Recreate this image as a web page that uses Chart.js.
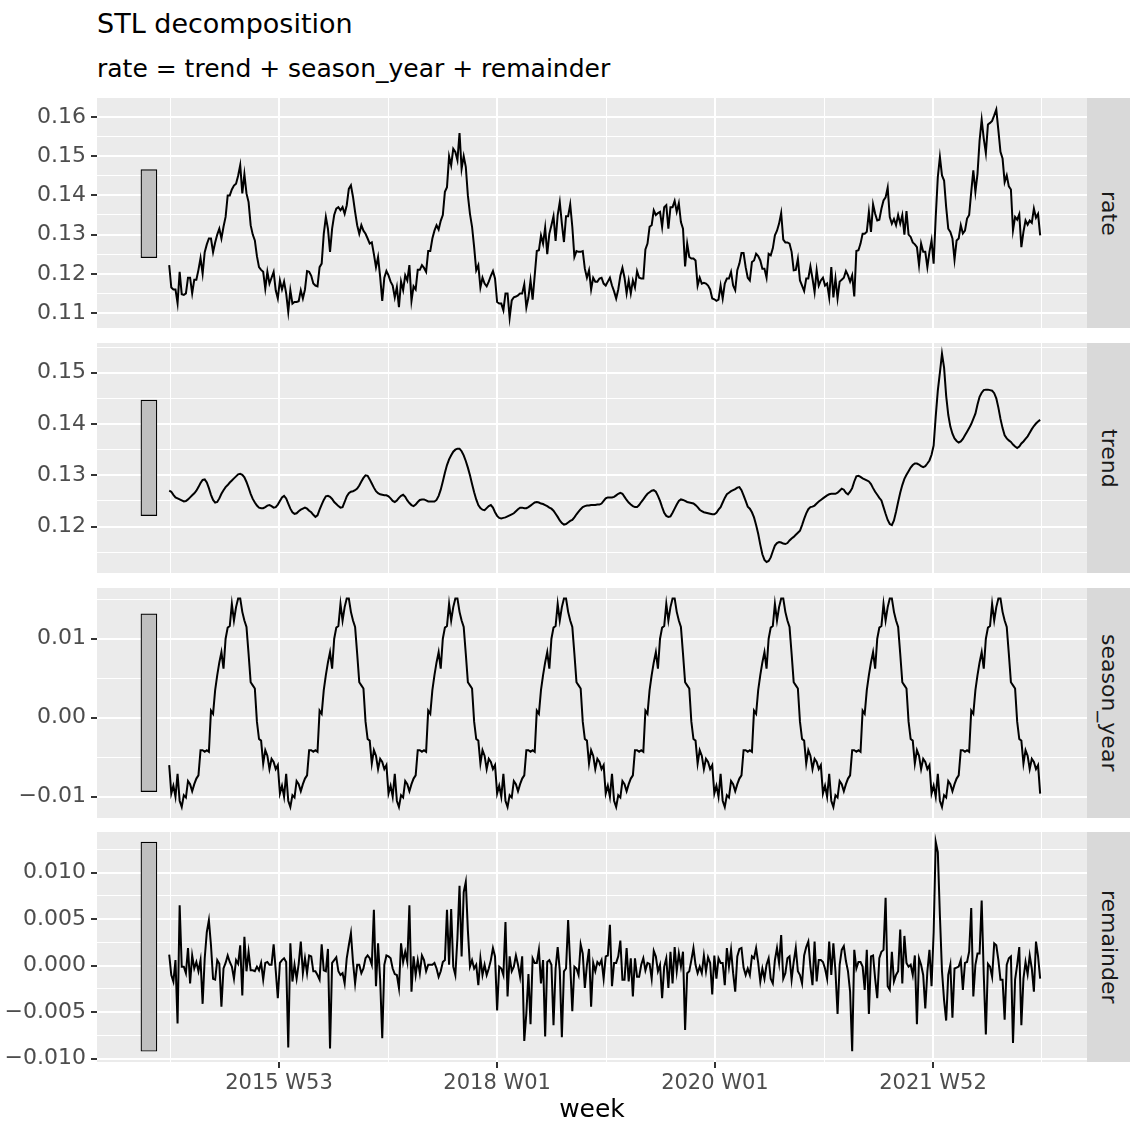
<!DOCTYPE html>
<html><head><meta charset="utf-8">
<script src="https://cdn.jsdelivr.net/npm/chart.js@4.4.1/dist/chart.umd.min.js"></script>
<style>
html,body{margin:0;padding:0;background:#fff;}
#wrap{position:relative;width:1130px;height:1128px;overflow:hidden;font-family:'DejaVu Sans',sans-serif;}
canvas{position:absolute;left:0;display:block;}
.txt{position:absolute;white-space:nowrap;line-height:1;color:#000;}
.strip{position:absolute;background:#D9D9D9;display:flex;align-items:center;justify-content:center;}
.strip span{writing-mode:vertical-rl;font-size:22px;color:#1A1A1A;line-height:1;white-space:nowrap;}
</style></head><body>
<div id="wrap">
  <div class="txt" style="left:97px;top:10px;font-size:27px;">STL decomposition</div>
  <div class="txt" style="left:97px;top:56px;font-size:25px;">rate = trend + season_year + remainder</div>
</div>
<script>
// ---------------- DATA ----------------
const facetLabels = ['rate', 'trend', 'season_year', 'remainder'];
const xAxisTitle = 'week';
const firstWeekMonday = '2014-12-29'; // 2015 W01, one observation per week
const xTickDates = ['2016-01-01', '2018-01-01', '2020-01-01', '2022-01-01'];
const xTickLabels = ['2015 W53', '2018 W01', '2020 W01', '2021 W52'];
const xMinorDates = ['2015-01-01', '2017-01-01', '2019-01-01', '2021-01-01', '2023-01-01'];

const rateTicks = [0.11, 0.12, 0.13, 0.14, 0.15, 0.16];
const rateTickLabels = ['0.11', '0.12', '0.13', '0.14', '0.15', '0.16'];
const rateMinorTicks = [0.115, 0.125, 0.135, 0.145, 0.155];
const trendTicks = [0.12, 0.13, 0.14, 0.15];
const trendTickLabels = ['0.12', '0.13', '0.14', '0.15'];
const trendMinorTicks = [0.115, 0.125, 0.135, 0.145, 0.155];
const seasonTicks = [-0.01, 0, 0.01];
const seasonTickLabels = ['\u22120.01', '0.00', '0.01'];
const seasonMinorTicks = [-0.005, 0.005, 0.015];
const remainderTicks = [-0.01, -0.005, 0, 0.005, 0.01];
const remainderTickLabels = ['\u22120.010', '\u22120.005', '0.000', '0.005', '0.010'];
const remainderMinorTicks = [-0.0075, -0.0025, 0.0025, 0.0075, 0.0125];

const rate = [
0.1222,0.1165,0.1160,0.1160,0.1125,0.1205,0.1148,0.1146,0.1150,0.1190,
0.1190,0.1150,0.1185,0.1185,0.1210,0.1240,0.1200,0.1255,0.1275,0.1290,
0.1290,0.1255,0.1280,0.1300,0.1315,0.1290,0.1320,0.1345,0.1400,0.1400,
0.1415,0.1425,0.1430,0.1450,0.1477,0.1405,0.1454,0.1405,0.1383,0.1324,
0.1300,0.1285,0.1245,0.1217,0.1210,0.1205,0.1162,0.1205,0.1175,0.1190,
0.1205,0.1158,0.1137,0.1183,0.1160,0.1180,0.1150,0.1103,0.1158,0.1124,
0.1128,0.1128,0.1130,0.1158,0.1137,0.1160,0.1207,0.1205,0.1195,0.1175,
0.1170,0.1168,0.1217,0.1226,0.1302,0.1345,0.1315,0.1256,0.1315,0.1350,
0.1366,0.1370,0.1362,0.1370,0.1353,0.1375,0.1417,0.1426,0.1396,0.1358,
0.1324,0.1302,0.1324,0.1310,0.1302,0.1290,0.1277,0.1280,0.1250,0.1217,
0.1243,0.1192,0.1131,0.1190,0.1207,0.1196,0.1180,0.1170,0.1140,0.1166,
0.1115,0.1180,0.1158,0.1196,0.1183,0.1222,0.1131,0.1168,0.1160,0.1210,
0.1210,0.1222,0.1215,0.1205,0.1258,0.1258,0.1290,0.1310,0.1324,0.1313,
0.1335,0.1350,0.1409,0.1421,0.1500,0.1477,0.1519,0.1511,0.1490,0.1559,
0.1468,0.1500,0.1473,0.1400,0.1353,0.1320,0.1268,0.1209,0.1222,0.1165,
0.1190,0.1175,0.1168,0.1180,0.1195,0.1207,0.1188,0.1128,0.1124,0.1124,
0.1107,0.1150,0.1150,0.1088,0.1132,0.1140,0.1142,0.1145,0.1150,0.1150,
0.1173,0.1114,0.1140,0.1183,0.1134,0.1196,0.1258,0.1260,0.1298,0.1277,
0.1318,0.1250,0.1302,0.1324,0.1347,0.1284,0.1350,0.1383,0.1328,0.1281,
0.1347,0.1347,0.1377,0.1320,0.1243,0.1258,0.1256,0.1256,0.1258,0.1213,
0.1190,0.1209,0.1160,0.1190,0.1180,0.1180,0.1188,0.1190,0.1175,0.1170,
0.1180,0.1190,0.1170,0.1155,0.1137,0.1160,0.1195,0.1215,0.1190,0.1150,
0.1183,0.1150,0.1183,0.1165,0.1207,0.1190,0.1188,0.1188,0.1262,0.1277,
0.1320,0.1324,0.1362,0.1350,0.1355,0.1358,0.1320,0.1370,0.1375,0.1315,
0.1370,0.1370,0.1386,0.1358,0.1380,0.1332,0.1315,0.1219,0.1277,0.1243,
0.1239,0.1239,0.1234,0.1170,0.1190,0.1175,0.1177,0.1175,0.1170,0.1160,
0.1137,0.1135,0.1131,0.1134,0.1170,0.1137,0.1175,0.1188,0.1188,0.1205,
0.1170,0.1158,0.1209,0.1226,0.1253,0.1253,0.1217,0.1190,0.1183,0.1230,
0.1234,0.1251,0.1245,0.1234,0.1213,0.1213,0.1190,0.1251,0.1247,0.1265,
0.1298,0.1310,0.1328,0.1355,0.1287,0.1280,0.1280,0.1277,0.1256,0.1209,
0.1210,0.1238,0.1183,0.1170,0.1156,0.1188,0.1188,0.1219,0.1188,0.1153,
0.1209,0.1170,0.1183,0.1190,0.1170,0.1175,0.1140,0.1217,0.1140,0.1188,
0.1137,0.1180,0.1185,0.1190,0.1207,0.1196,0.1180,0.1196,0.1142,0.1258,
0.1260,0.1277,0.1302,0.1302,0.1307,0.1358,0.1307,0.1377,0.1353,0.1336,
0.1338,0.1366,0.1387,0.1395,0.1420,0.1345,0.1328,0.1340,0.1324,0.1350,
0.1328,0.1350,0.1300,0.1360,0.1300,0.1294,0.1280,0.1275,0.1268,0.1222,
0.1277,0.1256,0.1256,0.1217,0.1256,0.1285,0.1226,0.1345,0.1447,0.1498,
0.1451,0.1438,0.1370,0.1315,0.1307,0.1290,0.1236,0.1285,0.1290,0.1324,
0.1303,0.1310,0.1341,0.1350,0.1409,0.1464,0.1409,0.1455,0.1540,0.1593,
0.1545,0.1508,0.1581,0.1585,0.1590,0.1604,0.1619,0.1566,0.1511,0.1494,
0.1434,0.1451,0.1423,0.1415,0.1311,0.1345,0.1338,0.1352,0.1268,0.1307,
0.1336,0.1325,0.1336,0.1330,0.1366,0.1343,0.1353,0.1298];

const trend = [
0.1270,0.1268,0.1262,0.1257,0.1255,0.1253,0.1251,0.1249,0.1250,0.1253,
0.1257,0.1261,0.1265,0.1270,0.1277,0.1285,0.1291,0.1292,0.1286,0.1275,
0.1262,0.1252,0.1247,0.1248,0.1255,0.1264,0.1271,0.1277,0.1281,0.1286,
0.1290,0.1294,0.1298,0.1302,0.1303,0.1301,0.1296,0.1287,0.1276,0.1264,
0.1254,0.1247,0.1241,0.1237,0.1236,0.1236,0.1238,0.1241,0.1242,0.1240,
0.1237,0.1238,0.1243,0.1250,0.1257,0.1260,0.1255,0.1245,0.1235,0.1228,
0.1225,0.1226,0.1230,0.1233,0.1235,0.1237,0.1235,0.1231,0.1228,0.1223,
0.1219,0.1222,0.1233,0.1243,0.1252,0.1259,0.1260,0.1258,0.1254,0.1248,
0.1244,0.1240,0.1237,0.1238,0.1248,0.1259,0.1265,0.1268,0.1269,0.1271,
0.1274,0.1280,0.1288,0.1295,0.1300,0.1299,0.1292,0.1284,0.1276,0.1269,
0.1265,0.1263,0.1262,0.1261,0.1261,0.1259,0.1255,0.1250,0.1248,0.1251,
0.1256,0.1260,0.1262,0.1258,0.1251,0.1246,0.1242,0.1240,0.1243,0.1248,
0.1252,0.1253,0.1253,0.1251,0.1249,0.1249,0.1249,0.1249,0.1252,0.1260,
0.1272,0.1288,0.1305,0.1320,0.1331,0.1339,0.1346,0.1350,0.1352,0.1352,
0.1347,0.1339,0.1328,0.1315,0.1300,0.1283,0.1267,0.1253,0.1242,0.1236,
0.1233,0.1232,0.1236,0.1240,0.1242,0.1237,0.1228,0.1221,0.1217,0.1216,
0.1217,0.1218,0.1220,0.1222,0.1224,0.1226,0.1230,0.1234,0.1237,0.1237,
0.1236,0.1236,0.1238,0.1241,0.1244,0.1247,0.1248,0.1247,0.1245,0.1244,
0.1242,0.1240,0.1237,0.1235,0.1231,0.1225,0.1219,0.1212,0.1207,0.1204,
0.1205,0.1208,0.1211,0.1213,0.1218,0.1224,0.1229,0.1234,0.1238,0.1240,
0.1241,0.1241,0.1242,0.1242,0.1242,0.1243,0.1243,0.1245,0.1250,0.1255,
0.1257,0.1257,0.1257,0.1258,0.1261,0.1264,0.1266,0.1264,0.1258,0.1252,
0.1247,0.1243,0.1240,0.1238,0.1238,0.1242,0.1248,0.1253,0.1259,0.1264,
0.1267,0.1270,0.1271,0.1268,0.1260,0.1250,0.1238,0.1227,0.1221,0.1219,
0.1220,0.1227,0.1235,0.1243,0.1250,0.1253,0.1252,0.1250,0.1248,0.1247,
0.1246,0.1245,0.1242,0.1238,0.1233,0.1230,0.1228,0.1227,0.1226,0.1225,
0.1224,0.1224,0.1227,0.1233,0.1238,0.1247,0.1256,0.1263,0.1266,0.1269,
0.1271,0.1273,0.1276,0.1277,0.1271,0.1261,0.1250,0.1239,0.1235,0.1228,
0.1218,0.1203,0.1186,0.1165,0.1146,0.1135,0.1131,0.1133,0.1140,0.1152,
0.1163,0.1168,0.1170,0.1169,0.1167,0.1166,0.1168,0.1173,0.1177,0.1180,
0.1184,0.1188,0.1192,0.1203,0.1215,0.1226,0.1234,0.1238,0.1239,0.1241,
0.1245,0.1249,0.1252,0.1255,0.1258,0.1261,0.1263,0.1264,0.1264,0.1264,
0.1266,0.1270,0.1274,0.1272,0.1266,0.1263,0.1268,0.1275,0.1288,0.1298,
0.1299,0.1297,0.1294,0.1292,0.1290,0.1288,0.1283,0.1275,0.1268,0.1262,
0.1256,0.1251,0.1238,0.1225,0.1213,0.1205,0.1203,0.1212,0.1229,0.1248,
0.1266,0.1281,0.1293,0.1301,0.1308,0.1315,0.1320,0.1323,0.1323,0.1321,
0.1318,0.1316,0.1318,0.1323,0.1329,0.1340,0.1358,0.1415,0.1465,0.1500,
0.1537,0.1510,0.1455,0.1418,0.1395,0.1381,0.1372,0.1367,0.1364,0.1366,
0.1371,0.1378,0.1385,0.1392,0.1400,0.1410,0.1420,0.1438,0.1453,0.1461,
0.1466,0.1467,0.1467,0.1466,0.1465,0.1460,0.1450,0.1432,0.1410,0.1392,
0.1378,0.1372,0.1368,0.1365,0.1360,0.1356,0.1353,0.1356,0.1362,0.1366,
0.1371,0.1376,0.1383,0.1390,0.1396,0.1401,0.1405,0.1408];

// one row per seasonal year (52 weeks each), the last row holds the final 2 weeks
const seasonYear = [
-0.0060,-0.0096,-0.0086,-0.0100,-0.0071,-0.0105,-0.0113,-0.0098,-0.0101,-0.0080,-0.0084,-0.0093,-0.0084,-0.0077,-0.0073,-0.0041,-0.0041,-0.0043,-0.0041,-0.0043,0.0009,0.0005,0.0035,0.0054,0.0070,0.0083,0.0062,0.0100,0.0114,0.0116,0.0144,0.0123,0.0140,0.0151,0.0151,0.0134,0.0123,0.0115,0.0081,0.0045,0.0041,0.0037,-0.0005,-0.0027,-0.0029,-0.0058,-0.0041,-0.0048,-0.0065,-0.0052,-0.0056,-0.0065,
-0.0060,-0.0096,-0.0086,-0.0100,-0.0071,-0.0105,-0.0113,-0.0098,-0.0101,-0.0080,-0.0084,-0.0093,-0.0084,-0.0077,-0.0073,-0.0041,-0.0041,-0.0043,-0.0041,-0.0043,0.0009,0.0005,0.0035,0.0054,0.0070,0.0083,0.0062,0.0100,0.0114,0.0116,0.0144,0.0123,0.0140,0.0151,0.0151,0.0134,0.0123,0.0115,0.0081,0.0045,0.0041,0.0037,-0.0005,-0.0027,-0.0029,-0.0058,-0.0041,-0.0048,-0.0065,-0.0052,-0.0056,-0.0065,
-0.0060,-0.0096,-0.0086,-0.0100,-0.0071,-0.0105,-0.0113,-0.0098,-0.0101,-0.0080,-0.0084,-0.0093,-0.0084,-0.0077,-0.0073,-0.0041,-0.0041,-0.0043,-0.0041,-0.0043,0.0009,0.0005,0.0035,0.0054,0.0070,0.0083,0.0062,0.0100,0.0114,0.0116,0.0144,0.0123,0.0140,0.0151,0.0151,0.0134,0.0123,0.0115,0.0081,0.0045,0.0041,0.0037,-0.0005,-0.0027,-0.0029,-0.0058,-0.0041,-0.0048,-0.0065,-0.0052,-0.0056,-0.0065,
-0.0060,-0.0096,-0.0086,-0.0100,-0.0071,-0.0105,-0.0113,-0.0098,-0.0101,-0.0080,-0.0084,-0.0093,-0.0084,-0.0077,-0.0073,-0.0041,-0.0041,-0.0043,-0.0041,-0.0043,0.0009,0.0005,0.0035,0.0054,0.0070,0.0083,0.0062,0.0100,0.0114,0.0116,0.0144,0.0123,0.0140,0.0151,0.0151,0.0134,0.0123,0.0115,0.0081,0.0045,0.0041,0.0037,-0.0005,-0.0027,-0.0029,-0.0058,-0.0041,-0.0048,-0.0065,-0.0052,-0.0056,-0.0065,
-0.0060,-0.0096,-0.0086,-0.0100,-0.0071,-0.0105,-0.0113,-0.0098,-0.0101,-0.0080,-0.0084,-0.0093,-0.0084,-0.0077,-0.0073,-0.0041,-0.0041,-0.0043,-0.0041,-0.0043,0.0009,0.0005,0.0035,0.0054,0.0070,0.0083,0.0062,0.0100,0.0114,0.0116,0.0144,0.0123,0.0140,0.0151,0.0151,0.0134,0.0123,0.0115,0.0081,0.0045,0.0041,0.0037,-0.0005,-0.0027,-0.0029,-0.0058,-0.0041,-0.0048,-0.0065,-0.0052,-0.0056,-0.0065,
-0.0060,-0.0096,-0.0086,-0.0100,-0.0071,-0.0105,-0.0113,-0.0098,-0.0101,-0.0080,-0.0084,-0.0093,-0.0084,-0.0077,-0.0073,-0.0041,-0.0041,-0.0043,-0.0041,-0.0043,0.0009,0.0005,0.0035,0.0054,0.0070,0.0083,0.0062,0.0100,0.0114,0.0116,0.0144,0.0123,0.0140,0.0151,0.0151,0.0134,0.0123,0.0115,0.0081,0.0045,0.0041,0.0037,-0.0005,-0.0027,-0.0029,-0.0058,-0.0041,-0.0048,-0.0065,-0.0052,-0.0056,-0.0065,
-0.0060,-0.0096,-0.0086,-0.0100,-0.0071,-0.0105,-0.0113,-0.0098,-0.0101,-0.0080,-0.0084,-0.0093,-0.0084,-0.0077,-0.0073,-0.0041,-0.0041,-0.0043,-0.0041,-0.0043,0.0009,0.0005,0.0035,0.0054,0.0070,0.0083,0.0062,0.0100,0.0114,0.0116,0.0144,0.0123,0.0140,0.0151,0.0151,0.0134,0.0123,0.0115,0.0081,0.0045,0.0041,0.0037,-0.0005,-0.0027,-0.0029,-0.0058,-0.0041,-0.0048,-0.0065,-0.0052,-0.0056,-0.0065,
-0.0060,-0.0096,-0.0086,-0.0100,-0.0071,-0.0105,-0.0113,-0.0098,-0.0101,-0.0080,-0.0084,-0.0093,-0.0084,-0.0077,-0.0073,-0.0041,-0.0041,-0.0043,-0.0041,-0.0043,0.0009,0.0005,0.0035,0.0054,0.0070,0.0083,0.0062,0.0100,0.0114,0.0116,0.0144,0.0123,0.0140,0.0151,0.0151,0.0134,0.0123,0.0115,0.0081,0.0045,0.0041,0.0037,-0.0005,-0.0027,-0.0029,-0.0058,-0.0041,-0.0048,-0.0065,-0.0052,-0.0056,-0.0065,
-0.0060,-0.0096];

const remainder = [
0.0012,-0.0010,-0.0017,0.0006,-0.0062,0.0065,-0.0001,-0.0001,-0.0008,0.0019,
-0.0019,0.0011,-0.0003,0.0004,-0.0006,0.0006,-0.0041,0.0008,0.0036,0.0049,
0.0022,-0.0014,-0.0015,0.0006,0.0002,-0.0044,-0.0003,0.0003,0.0011,0.0004,
-0.0001,-0.0014,0.0006,0.0002,0.0022,-0.0032,0.0031,-0.0006,0.0015,-0.0005,
-0.0005,-0.0006,-0.0001,-0.0005,0.0003,-0.0015,0.0003,0.0004,0.0001,0.0001,
0.0023,-0.0005,-0.0035,0.0003,0.0006,0.0008,0.0004,-0.0088,0.0024,-0.0017,
0.0001,-0.0014,0.0002,0.0026,-0.0008,0.0008,-0.0008,0.0011,0.0010,-0.0006,
-0.0006,-0.0010,-0.0015,0.0023,-0.0005,-0.0006,0.0018,-0.0089,0.0003,0.0006,
0.0009,-0.0006,-0.0010,-0.0008,-0.0019,0.0008,0.0022,0.0035,0.0004,-0.0019,
0.0001,0.0001,-0.0008,-0.0003,0.0008,0.0011,0.0008,0.0001,0.0060,-0.0022,
0.0024,-0.0015,-0.0078,0.0001,0.0011,0.0010,0.0008,-0.0003,-0.0009,-0.0010,
-0.0024,0.0024,0.0004,0.0015,0.0004,0.0065,-0.0028,0.0010,-0.0010,0.0006,
-0.0008,0.0011,0.0006,-0.0006,0.0001,0.0001,0.0001,0.0003,-0.0003,-0.0012,
-0.0006,0.0004,0.0006,0.0060,0.0001,0.0061,-0.0001,-0.0010,0.0030,0.0086,
0.0010,0.0079,0.0090,0.0038,-0.0001,0.0006,-0.0003,0.0001,-0.0021,0.0008,
-0.0010,0.0001,-0.0010,-0.0003,0.0006,0.0019,0.0010,-0.0048,-0.0001,-0.0003,
-0.0010,0.0047,-0.0033,0.0010,-0.0006,-0.0001,0.0011,0.0001,-0.0012,0.0010,
-0.0081,-0.0051,-0.0009,-0.0063,0.0008,0.0003,0.0003,0.0017,-0.0019,0.0006,
-0.0076,0.0004,0.0006,0.0001,-0.0064,-0.0003,0.0020,-0.0005,-0.0077,-0.0006,
-0.0003,0.0049,0.0001,-0.0049,-0.0001,-0.0003,-0.0010,0.0023,0.0013,-0.0024,
0.0001,0.0018,-0.0044,0.0003,-0.0006,0.0004,0.0001,0.0006,-0.0014,0.0010,
0.0011,0.0044,-0.0022,0.0003,0.0003,0.0010,0.0027,-0.0015,-0.0015,0.0019,
-0.0017,0.0008,-0.0033,0.0008,-0.0012,-0.0012,0.0001,0.0008,-0.0005,0.0003,
0.0002,-0.0014,0.0016,0.0010,-0.0006,0.0001,-0.0035,-0.0001,0.0008,-0.0024,
0.0015,-0.0019,0.0020,-0.0006,0.0013,-0.0001,0.0015,-0.0069,-0.0008,-0.0006,
0.0006,0.0019,0.0001,-0.0008,-0.0001,-0.0008,0.0011,-0.0006,0.0009,0.0003,
-0.0031,0.0011,-0.0014,0.0008,0.0003,0.0003,-0.0021,0.0019,-0.0001,0.0017,
-0.0008,-0.0028,0.0010,0.0018,0.0019,-0.0002,-0.0010,-0.0003,-0.0010,0.0010,
0.0008,0.0019,0.0003,-0.0017,-0.0003,-0.0014,0.0001,0.0008,-0.0014,-0.0019,
0.0006,0.0019,0.0003,0.0033,-0.0014,-0.0008,0.0008,0.0010,-0.0015,0.0004,
0.0019,-0.0006,-0.0010,-0.0019,0.0011,0.0020,0.0026,-0.0001,-0.0021,0.0026,
-0.0017,0.0006,0.0006,0.0004,-0.0003,-0.0014,0.0026,-0.0010,0.0024,-0.0006,
-0.0052,0.0001,0.0017,0.0021,0.0005,-0.0006,-0.0028,-0.0092,0.0017,-0.0003,
0.0004,0.0004,-0.0001,-0.0026,0.0017,-0.0052,0.0010,0.0011,-0.0014,-0.0035,
0.0008,0.0015,0.0017,0.0073,-0.0022,-0.0026,0.0015,-0.0017,-0.0010,-0.0006,
0.0039,-0.0019,0.0032,0.0003,-0.0001,0.0001,-0.0010,0.0011,-0.0063,0.0008,
0.0001,-0.0010,-0.0046,-0.0006,0.0017,-0.0022,0.0036,0.0133,0.0122,0.0054,
-0.0006,-0.0037,-0.0059,-0.0010,0.0001,-0.0056,-0.0003,-0.0002,-0.0001,0.0006,
-0.0026,0.0003,0.0004,0.0015,0.0062,-0.0033,0.0001,0.0013,0.0013,0.0070,
-0.0010,-0.0074,0.0002,-0.0001,-0.0012,0.0024,0.0022,0.0006,-0.0015,-0.0015,
-0.0058,0.0001,0.0008,0.0010,-0.0083,-0.0015,0.0001,0.0020,-0.0064,-0.0014,
0.0004,-0.0009,0.0011,-0.0003,-0.0028,0.0026,0.0010,-0.0014];

// ---------------- LAYOUT / STYLE ----------------
const FONT = "'DejaVu Sans', sans-serif";
const PAGE_H = 1128;
const PANEL_LEFT = 97, PANEL_RIGHT = 1087, STRIP_W = 43, PANEL_H = 230;
const X_MIN = -242, X_MAX = 3076;      // axis limits in days since the first week
const BAR_X = -68;                      // position of the scale bars (days)
const panels = [
  {label: facetLabels[0], values: rate,       top: 98,  min: 0.10617,  max: 0.16485,  majors: rateTicks,      minors: rateMinorTicks,      labels: rateTickLabels},
  {label: facetLabels[1], values: trend,      top: 343, min: 0.11096,  max: 0.15579,  majors: trendTicks,     minors: trendMinorTicks,     labels: trendTickLabels},
  {label: facetLabels[2], values: seasonYear, top: 588, min: -0.01269, max: 0.01642,  majors: seasonTicks,    minors: seasonMinorTicks,    labels: seasonTickLabels},
  {label: facetLabels[3], values: remainder,  top: 832, min: -0.010355,max: 0.014376, majors: remainderTicks, minors: remainderMinorTicks, labels: remainderTickLabels}
];

const DAY_MS = 86400000;
const day0 = Date.parse(firstWeekMonday);
const dayOf = s => (Date.parse(s) - day0) / DAY_MS;
const xMajorDays = xTickDates.map(dayOf);
const xMinorDays = xMinorDates.map(dayOf);
const near = (a, b) => Math.abs(a - b) < 1e-7;
const idxIn = (arr, v) => arr.findIndex(m => near(m, v));

// scale bars: same data length in every panel (the smallest panel range)
const minRange = Math.min(...panels.map(p => Math.max(...p.values) - Math.min(...p.values)));

const panelBg = {
  id: 'panelBg',
  beforeDraw(chart) {
    const {ctx, chartArea: a} = chart;
    ctx.save();
    ctx.fillStyle = '#EBEBEB';
    ctx.fillRect(a.left, a.top, a.right - a.left, a.bottom - a.top);
    ctx.restore();
  }
};

const wrap = document.getElementById('wrap');

panels.forEach((p, k) => {
  const isBottom = k === panels.length - 1;
  const h = isBottom ? PAGE_H - p.top : PANEL_H;
  const cv = document.createElement('canvas');
  cv.width = PANEL_RIGHT; cv.height = h;
  cv.style.width = PANEL_RIGHT + 'px'; cv.style.height = h + 'px';
  cv.style.top = p.top + 'px';
  wrap.appendChild(cv);

  const strip = document.createElement('div');
  strip.className = 'strip';
  strip.style.left = PANEL_RIGHT + 'px';
  strip.style.top = p.top + 'px';
  strip.style.width = STRIP_W + 'px';
  strip.style.height = PANEL_H + 'px';
  const sp = document.createElement('span');
  sp.textContent = p.label;
  strip.appendChild(sp);
  wrap.appendChild(strip);

  const lo = Math.min(...p.values), hi = Math.max(...p.values);
  const mid = (lo + hi) / 2;
  const points = p.values.map((v, i) => ({x: i * 7, y: v}));

  new Chart(cv, {
    data: {
      datasets: [
        {type: 'line', data: points, borderColor: '#000000', borderWidth: 2, pointRadius: 0,
         tension: 0, fill: false, order: 1},
        {type: 'bar', data: [{x: BAR_X, y: [mid - minRange / 2, mid + minRange / 2]}],
         backgroundColor: '#BFBFBF', borderColor: '#000000', borderWidth: 1.2, borderSkipped: false,
         barThickness: 16, order: 2}
      ]
    },
    options: {
      responsive: false, animation: false, devicePixelRatio: 1,
      layout: {padding: 0},
      plugins: {legend: {display: false}, tooltip: {enabled: false}},
      scales: {
        x: {
          type: 'linear', min: X_MIN, max: X_MAX, offset: false,
          afterBuildTicks: s => { s.ticks = [...xMinorDays, ...xMajorDays].sort((a, b) => a - b).map(v => ({value: v})); },
          afterFit: s => { s.height = isBottom ? PAGE_H - p.top - PANEL_H : 0; s.paddingLeft = 0; s.paddingRight = 0; },
          border: {display: false},
          grid: {
            offset: false,
            color: '#FFFFFF',
            lineWidth: c => (c.tick && idxIn(xMajorDays, c.tick.value) >= 0) ? 2 : 1,
            drawTicks: isBottom, tickLength: 6, tickWidth: 2,
            tickColor: c => (c.tick && idxIn(xMajorDays, c.tick.value) >= 0) ? '#333333' : 'rgba(0,0,0,0)'
          },
          ticks: {
            display: isBottom, autoSkip: false, maxRotation: 0, minRotation: 0, padding: 3,
            color: '#4D4D4D', font: {family: FONT, size: 21},
            callback: v => { const j = idxIn(xMajorDays, v); return j >= 0 ? xTickLabels[j] : ''; }
          },
          title: {display: isBottom, text: xAxisTitle, color: '#000000', font: {family: FONT, size: 25},
                  padding: {top: 0, bottom: 3}}
        },
        y: {
          type: 'linear', min: p.min, max: p.max, beginAtZero: false,
          afterBuildTicks: s => { s.ticks = [...p.minors, ...p.majors].sort((a, b) => a - b).map(v => ({value: v})); },
          afterFit: s => { s.width = PANEL_LEFT; s.paddingTop = 0; s.paddingBottom = 0; },
          border: {display: false},
          grid: {
            color: '#FFFFFF',
            lineWidth: c => (c.tick && idxIn(p.majors, c.tick.value) >= 0) ? 2 : 1,
            drawTicks: true, tickLength: 6, tickWidth: 2,
            tickColor: c => (c.tick && idxIn(p.majors, c.tick.value) >= 0) ? '#333333' : 'rgba(0,0,0,0)'
          },
          ticks: {
            autoSkip: false, padding: 5, color: '#4D4D4D', font: {family: FONT, size: 22},
            callback: v => { const j = idxIn(p.majors, v); return j >= 0 ? p.labels[j] : ''; }
          }
        }
      }
    },
    plugins: [panelBg]
  });
});
</script>
</body></html>
